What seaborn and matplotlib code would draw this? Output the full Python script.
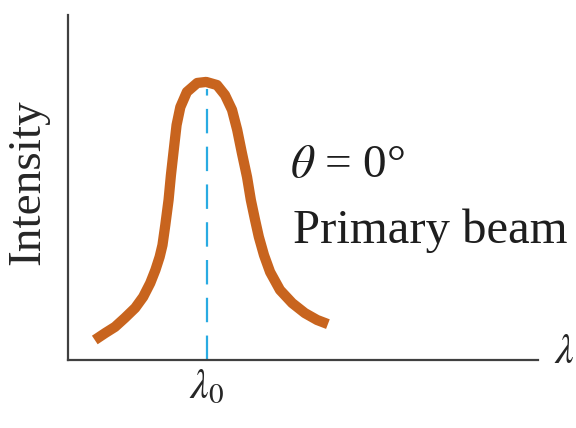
import numpy as np
import pandas as pd
import seaborn as sns
import matplotlib.pyplot as plt

# curve (arbitrary units: wavelength 0-10, intensity 0-10)
wavelength = [0.57, 0.79, 1.00, 1.21, 1.43, 1.60, 1.75, 1.86, 1.95, 2.01,
              2.07, 2.14, 2.19, 2.25, 2.31, 2.39, 2.53, 2.75, 2.94,
              3.17, 3.34, 3.49, 3.60, 3.70, 3.81, 3.89, 3.98, 4.06, 4.17,
              4.30, 4.51, 4.77, 5.04, 5.30, 5.53]
intensity = [0.58, 0.78, 0.96, 1.22, 1.51, 1.83, 2.23, 2.61, 2.99, 3.33,
             3.91, 4.64, 5.36, 6.09, 6.81, 7.33, 7.77, 8.03, 8.06,
             7.97, 7.68, 7.25, 6.67, 6.00, 5.30, 4.64, 4.06, 3.57, 3.04,
             2.55, 2.03, 1.65, 1.36, 1.16, 1.04]
lambda0 = 2.96
peak = 7.85

df = pd.DataFrame({'wavelength': wavelength, 'intensity': intensity})

sns.set_style('white')
plt.rcParams['font.family'] = ['Liberation Serif', 'DejaVu Serif']
plt.rcParams['mathtext.fontset'] = 'stix'

fig, ax = plt.subplots(figsize=(5.76, 4.28), dpi=100)
fig.subplots_adjust(left=68/576, right=538/576, bottom=68/428, top=413/428)

sns.lineplot(df, x='wavelength', y='intensity', color='#c8641e', linewidth=7.4,
             sort=False, ax=ax)
ax.lines[0].set_solid_capstyle('butt')
ax.lines[0].set_solid_joinstyle('round')
ax.vlines(lambda0, 0, peak, colors='#29abe2', linestyles=(0, (11, 6)), linewidth=1.6)

ax.set_xlim(0, 10)
ax.set_ylim(0, 10)
sns.despine()
for side in ['left', 'bottom']:
    ax.spines[side].set_color('#404040')
    ax.spines[side].set_linewidth(1.6)

ax.set_yticks([])
ax.set_xticks([lambda0])
ax.set_xticklabels([r'$\lambda_0$'], fontsize=30)
ax.tick_params(axis='x', length=0, pad=6)
ax.set_xlabel('')
ax.set_ylabel('Intensity', fontsize=34, va='center')
ax.yaxis.set_label_coords(-40/470, 178/345)

ax.text(1.055, 0.02, r'$\lambda$', transform=ax.transAxes, fontsize=30,
        ha='center', va='center')
ax.text(0.472, 0.53, r'$\theta$ = 0°', transform=ax.transAxes, fontsize=34,
        ha='left', va='baseline', color='#1e1e1e')
ax.text(0.479, 0.339, 'Primary beam', transform=ax.transAxes, fontsize=35,
        ha='left', va='baseline', color='#1e1e1e')

plt.savefig('out.png', dpi=100)
